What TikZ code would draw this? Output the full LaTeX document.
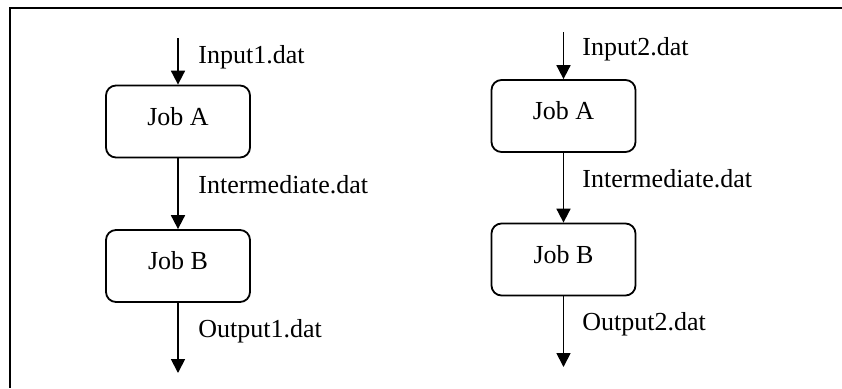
\documentclass[tikz,border=0pt]{standalone}
\usepackage{fontspec}
\setmainfont{Liberation Serif}
\usepackage{tikz}
\usetikzlibrary{arrows.meta,positioning}
\tikzset{%
	job/.style   = {draw, rectangle, rounded corners=5pt, line width=0.9pt, minimum width=72pt, minimum height=36pt, text height=9pt, text depth=5.4pt, inner sep=0pt, text centered, font=\fontsize{13}{15}\selectfont},
	file/.style  = {anchor=base west, inner sep=0pt, font=\fontsize{13}{15}\selectfont},
	arrow/.style = {line width=0.9pt, -{Triangle[width=7pt,length=7pt]}},
}
\begin{document}
\begin{tikzpicture}[x=0.5pt,y=-0.5pt]
	\useasboundingbox (0,0) rectangle (842,388);
	\draw[line width=1pt] (842,8) -- (10,8) -- (10,388);  % frame
	% first run
	\coordinate (in1) at (178,38);
	\coordinate (out1) at (178,373);
	\node[job] (jobA1) at (178,121.5) {Job A};
	\node[job] (jobB1) at (178,266) {Job B};
	\draw[arrow] (in1) -- (jobA1.north);
	\draw[arrow] (jobA1) -- (jobB1);
	\draw[arrow] (jobB1) -- (out1);
	\node[file] (inA1) at (198,63) {Input1.dat};
	\node[file] (midA1) at (198,193) {Intermediate.dat};
	\node[file] (outB1) at (198,337) {Output1.dat};
	% second run
	\coordinate (in2) at (563.5,32);
	\coordinate (out2) at (563.5,367);
	\node[job] (jobA2) at (563.5,116) {Job A};
	\node[job] (jobB2) at (563.5,259.5) {Job B};
	\draw[arrow] (in2) -- (jobA2.north);
	\draw[arrow] (jobA2) -- (jobB2);
	\draw[arrow] (jobB2) -- (out2);
	\node[file] (inA2) at (582,55) {Input2.dat};
	\node[file] (midA2) at (582,187) {Intermediate.dat};
	\node[file] (outB2) at (582,330) {Output2.dat};
\end{tikzpicture}
\end{document}
